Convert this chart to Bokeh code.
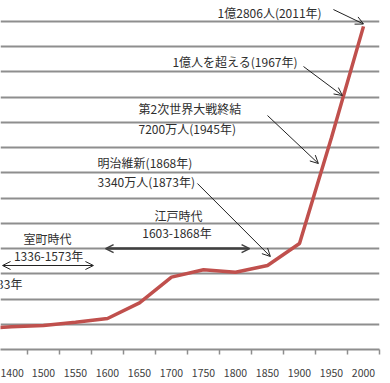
from bokeh.plotting import figure
from bokeh.models import Range1d, FixedTicker, Arrow, OpenHead, Label, ColumnDataSource
from bokeh.embed import file_html
from bokeh.resources import INLINE

# ---- data (population in 万人) ----
years = ["1300", "1400", "1500", "1550", "1600", "1650", "1700", "1750",
         "1800", "1850", "1900", "1950", "2000"]
population = [830, 900, 950, 1080, 1230, 1850, 2870, 3160, 3065, 3330, 4200, 8400, 12806]
grid_values = list(range(1000, 14000, 1000))

xs = list(range(len(years)))
src = ColumnDataSource(dict(x=xs, y=population))

FONT = "Noto Sans CJK JP"
TXT = "#2e2e2e"

p = figure(width=390, height=383, output_backend="svg", toolbar_location=None,
           x_range=Range1d(0.656, 12.5), y_range=Range1d(0, 13832),
           y_axis_location=None, min_border_left=0, min_border_right=11,
           min_border_top=0, min_border_bottom=34)
p.outline_line_color = None
p.background_fill_color = "white"
p.border_fill_color = "white"

p.xgrid.visible = False
p.ygrid.ticker = FixedTicker(ticks=grid_values)
p.ygrid.grid_line_color = "#8e8e8e"
p.ygrid.grid_line_width = 1.8

# x axis: labels at category centres, tick marks at category boundaries
boundaries = [i + 0.5 for i in xs]
p.xaxis.ticker = FixedTicker(ticks=xs, minor_ticks=boundaries)
p.xaxis.major_label_overrides = {i: y for i, y in zip(xs, years)}
p.xaxis.major_tick_line_color = None
p.xaxis.major_tick_out = 0
p.xaxis.major_tick_in = 0
p.xaxis.minor_tick_line_color = "#8e8e8e"
p.xaxis.minor_tick_line_width = 1.5
p.xaxis.minor_tick_out = 5
p.xaxis.minor_tick_in = 0
p.xaxis.axis_line_color = "#8e8e8e"
p.xaxis.axis_line_width = 1.8
p.xaxis.major_label_text_font = FONT
p.xaxis.major_label_text_font_size = "10.5px"
p.xaxis.major_label_text_color = "#404040"
p.xaxis.major_label_standoff = 14

p.line("x", "y", source=src, line_color="#c0504d", line_width=3.5)

# ---- annotations ----
texts = [
    ("1億2806人(2011年)", 7.44, 13356, "left"),
    ("1億人を超える(1967年)", 6.03, 11413, "left"),
    ("第2次世界大戦終結", 4.97, 9551, "left"),
    ("7200万人(1945年)", 4.97, 8758, "left"),
    ("明治維新(1868年)", 3.69, 7411, "left"),
    ("3340万人(1873年)", 3.69, 6658, "left"),
    ("江戸時代", 6.22, 5310, "center"),
    ("1603-1868年", 6.17, 4637, "center"),
    ("室町時代", 2.125, 4399, "center"),
    ("1336-1573年", 2.16, 3725, "center"),
    ("1185-1333年", 1.34, 2616, "right"),
]
for t, x, y, al in texts:
    p.add_layout(Label(x=x, y=y, text=t, text_align=al, text_baseline="middle",
                       text_font=FONT, text_font_size="12px", text_color=TXT))

arrows = [
    (11.06, 13474, 12.0, 12900),
    (10.125, 11215, 11.34, 10066),
    (9.0, 9273, 10.59, 7371),
    (6.81, 6579, 9.09, 3686),
]
for x0, y0, x1, y1 in arrows:
    p.add_layout(Arrow(x_start=x0, y_start=y0, x_end=x1, y_end=y1,
                       line_color="#222222", line_width=1,
                       end=OpenHead(size=8, line_color="#222222", line_width=1)))

# double arrows (periods)
p.add_layout(Arrow(x_start=3.94, y_start=4000, x_end=8.44, y_end=4000,
                   line_color="#404040", line_width=2.5,
                   start=OpenHead(size=8, line_color="#404040", line_width=1.5),
                   end=OpenHead(size=8, line_color="#404040", line_width=1.5)))
p.add_layout(Arrow(x_start=0.72, y_start=3329, x_end=3.56, y_end=3329,
                   line_color="#222222", line_width=1,
                   start=OpenHead(size=8, line_color="#222222", line_width=1),
                   end=OpenHead(size=8, line_color="#222222", line_width=1)))

open("out.html", "w").write(file_html(p, INLINE))
